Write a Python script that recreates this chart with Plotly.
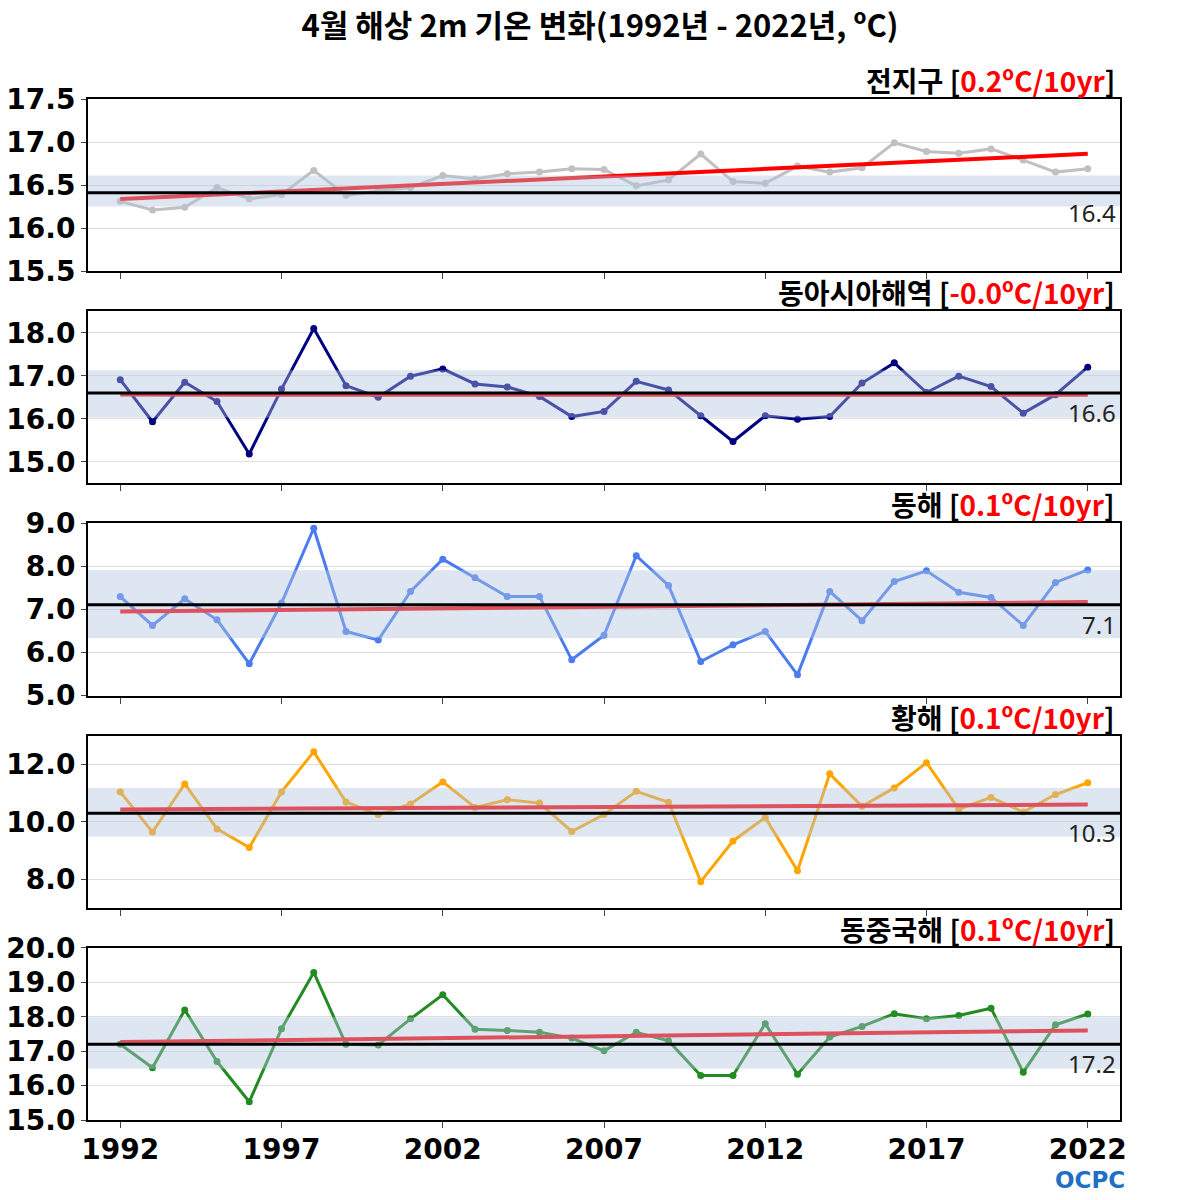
import numpy as np
import plotly.graph_objects as go
from plotly.subplots import make_subplots

years = list(range(1992, 2023))

region_names = ["전지구", "동아시아해역", "동해", "황해", "동중국해"]
trend_labels = ["0.2", "-0.0", "0.1", "0.1", "0.1"]
line_colors = ["#c0c0c0", "#000080", "#4a7cf0", "#ffa500", "#228b22"]

# climatological normal (black line) and the +/- 1 std band around it
normals = [16.41, 16.60, 7.11, 10.30, 17.20]
band_center = [16.43, 16.58, 7.12, 10.33, 17.24]
band_half = [0.18, 0.55, 0.79, 0.85, 0.75]

y_ranges = [[15.5, 17.5], [14.5, 18.5], [5, 9], [7, 13], [15, 20]]
y_dticks = [0.5, 1, 1, 2, 1]

global_t = [16.31, 16.21, 16.24, 16.47, 16.34, 16.39, 16.67, 16.38, 16.43, 16.47,
            16.61, 16.57, 16.63, 16.65, 16.69, 16.68, 16.49, 16.56, 16.86, 16.54,
            16.52, 16.72, 16.65, 16.70, 16.99, 16.89, 16.87, 16.92, 16.79, 16.65,
            16.69]
east_asia_t = [16.91, 15.93, 16.85, 16.40, 15.18, 16.69, 18.10, 16.77, 16.50, 16.99,
               17.16, 16.81, 16.74, 16.52, 16.05, 16.17, 16.87, 16.67, 16.07, 15.47,
               16.07, 15.99, 16.05, 16.83, 17.30, 16.61, 16.99, 16.75, 16.13, 16.56,
               17.20]
east_sea_t = [7.30, 6.63, 7.25, 6.76, 5.74, 7.15, 8.89, 6.49, 6.29, 7.42,
              8.17, 7.74, 7.30, 7.30, 5.83, 6.40, 8.25, 7.56, 5.79, 6.18,
              6.49, 5.48, 7.42, 6.74, 7.65, 7.90, 7.40, 7.28, 6.63, 7.63,
              7.92]
yellow_sea_t = [11.04, 9.64, 11.32, 9.75, 9.10, 11.04, 12.44, 10.69, 10.25, 10.62,
                11.39, 10.50, 10.77, 10.65, 9.66, 10.25, 11.06, 10.68, 7.91, 9.33,
                10.15, 8.29, 11.67, 10.54, 11.18, 12.06, 10.44, 10.85, 10.34, 10.95,
                11.36]
east_china_sea_t = [17.20, 16.52, 18.20, 16.70, 15.53, 17.65, 19.29, 17.20, 17.18, 17.94,
                    18.64, 17.64, 17.60, 17.55, 17.38, 17.01, 17.55, 17.30, 16.29, 16.29,
                    17.80, 16.33, 17.41, 17.72, 18.09, 17.94, 18.04, 18.25, 16.39, 17.77,
                    18.08]

series = [global_t, east_asia_t, east_sea_t, yellow_sea_t, east_china_sea_t]

fig = make_subplots(rows=5, cols=1, vertical_spacing=0.0394)

kr_font = "Noto Sans CJK KR"
tick_font = dict(family="DejaVu Sans", size=28, color="black", weight="bold")

for i, vals in enumerate(series):
    row = i + 1
    fig.add_trace(go.Scatter(
        x=years, y=vals, mode="lines+markers",
        line=dict(color=line_colors[i], width=3),
        marker=dict(color=line_colors[i], size=7),
        showlegend=False,
    ), row=row, col=1)

    slope, icpt = np.polyfit(years, vals, 1)
    trend = [slope * y + icpt for y in years]
    fig.add_trace(go.Scatter(
        x=[years[0], years[-1]], y=[trend[0], trend[-1]], mode="lines",
        line=dict(color="#ff0000", width=4),
        showlegend=False,
    ), row=row, col=1)

    xref = "x domain" if i == 0 else f"x{row} domain"
    yref = "y" if i == 0 else f"y{row}"
    yref_dom = "y domain" if i == 0 else f"y{row} domain"

    # std band drawn over the data (semi transparent)
    fig.add_shape(type="rect", xref=xref, yref=yref, x0=0, x1=1,
                  y0=band_center[i] - band_half[i], y1=band_center[i] + band_half[i],
                  fillcolor="rgb(176,196,222)", opacity=0.42, line_width=0,
                  layer="above")
    fig.add_shape(type="line", xref=xref, yref=yref, x0=0, x1=1,
                  y0=normals[i], y1=normals[i],
                  line=dict(color="black", width=3), layer="above")

    fig.add_annotation(xref=xref, yref=yref, x=1, y=normals[i],
                       text=f"{normals[i]:.1f}", showarrow=False,
                       xanchor="right", yanchor="top", xshift=-2, yshift=-1,
                       font=dict(family="Noto Sans", size=24, color="#222"))

    fig.add_annotation(xref=xref, yref=yref_dom, x=1, y=1,
                       text=(f"{region_names[i]} [<span style='color:#ff0000'>"
                             f"{trend_labels[i]}ºC/10yr</span>]"),
                       showarrow=False, xanchor="right", yanchor="bottom",
                       xshift=-3, yshift=-3,
                       font=dict(family=kr_font, size=28, color="black", weight="bold"))

    fig.update_yaxes(range=y_ranges[i], dtick=y_dticks[i], tickformat=".1f",
                     tickfont=tick_font, showgrid=True, gridcolor="#dedede",
                     gridwidth=1, showline=True, linecolor="black", linewidth=2,
                     mirror=True, ticks="outside", ticklen=5, tickcolor="#444",
                     zeroline=False, automargin=False, row=row, col=1)
    fig.update_xaxes(range=[1991, 2023], tickvals=list(range(1992, 2023, 5)),
                     showticklabels=(row == 5), tickfont=tick_font,
                     showgrid=False, showline=True, linecolor="black", linewidth=2,
                     mirror=True, ticks="outside", ticklen=6, tickcolor="#444",
                     ticklabelstandoff=-3,
                     zeroline=False, automargin=False, row=row, col=1)

fig.add_annotation(xref="paper", yref="paper", x=0.971, y=-0.0585,
                   text="OCPC", showarrow=False, xanchor="center", yanchor="middle",
                   font=dict(family="DejaVu Sans", size=23, color="#1f6fc5", weight="bold"))

fig.update_layout(
    width=1200, height=1200,
    margin=dict(l=88, r=80, t=99, b=80),
    paper_bgcolor="white", plot_bgcolor="white",
    title=dict(text="4월 해상 2m 기온 변화(1992년 - 2022년, ºC)",
               x=0.5, xanchor="center", y=1 - 26 / 1200, yanchor="middle",
               yref="container",
               font=dict(family=kr_font, size=31, color="black", weight="bold")),
)

# drop the default 8px page margin so the figure sits at the window corner
fig.write_html("out.html", config={"displayModeBar": False},
               post_script="document.body.style.margin='0px';")
